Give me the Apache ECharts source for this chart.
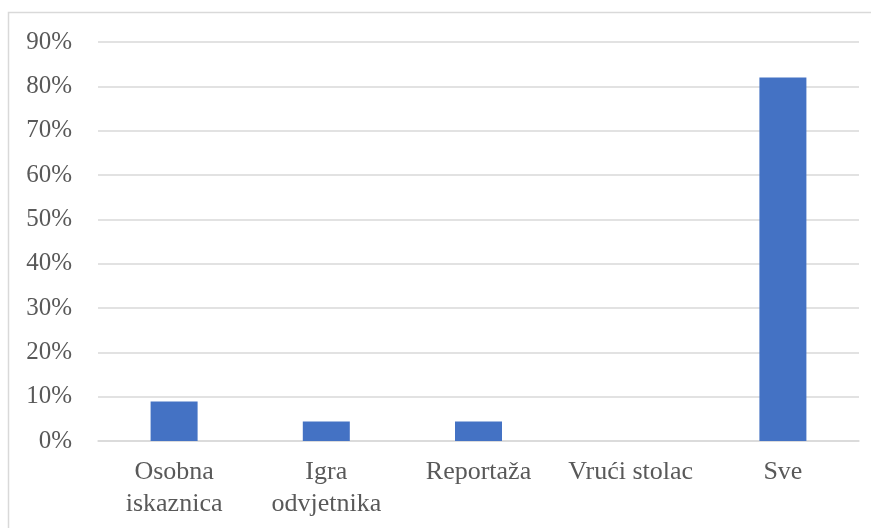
<!DOCTYPE html>
<html>
<head>
<meta charset="utf-8">
<script src="https://cdn.jsdelivr.net/npm/echarts@6/dist/echarts.min.js"></script>
<style>
  html, body { margin: 0; padding: 0; background: #fff; }
  #chart { width: 871px; height: 528px; }
</style>
</head>
<body>
<div id="chart"></div>
<script>
// kategorije i udjeli (%)
const categories = ["Osobna\niskaznica", "Igra\nodvjetnika", "Reportaža", "Vrući stolac", "Sve"];
const shares = [8.9, 4.4, 4.4, 0, 82];
const yTicks = [0, 10, 20, 30, 40, 50, 60, 70, 80, 90];

const chart = echarts.init(document.getElementById("chart"));
const textColor = "#595959";
const font = "Liberation Serif";

chart.setOption({
    animation: false,
    textStyle: { fontFamily: font },
    graphic: [{
        type: "rect",
        shape: { x: 8.5, y: 12.5, width: 900, height: 600 },
        style: { fill: "none", stroke: "#d9d9d9", lineWidth: 1.5 },
        silent: true
    }],
    grid: { left: 98, right: 12, top: 42, bottom: 87 },
    xAxis: {
        type: "category",
        data: categories,
        axisLine: { lineStyle: { color: "#d9d9d9", width: 1.5 } },
        axisTick: { show: false },
        axisLabel: {
            color: textColor, fontFamily: font, fontSize: 26,
            lineHeight: 32, margin: 15, interval: 0
        }
    },
    yAxis: {
        type: "value",
        min: yTicks[0],
        max: yTicks[yTicks.length - 1],
        interval: 10,
        axisLine: { show: false },
        axisTick: { show: false },
        splitLine: { lineStyle: { color: "#d9d9d9", width: 1.5 } },
        axisLabel: {
            color: textColor, fontFamily: font, fontSize: 25, margin: 26,
            formatter: v => v + "%"
        }
    },
    series: [{
        type: "bar",
        data: shares,
        barWidth: 47,
        itemStyle: { color: "#4472C4" }
    }]
});
</script>
</body>
</html>
